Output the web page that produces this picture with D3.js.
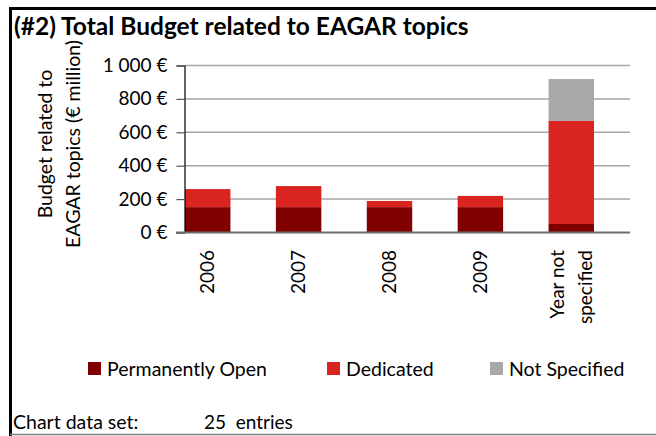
<!DOCTYPE html>
<html>
<head>
<meta charset="utf-8">
<script src="https://cdn.jsdelivr.net/npm/d3@7"></script>
<style>
  html, body { margin: 0; padding: 0; background: #fff; }
  svg { display: block; }
  text { font-family: Lato, "Open Sans", sans-serif; fill: #000; }
</style>
</head>
<body>
<svg id="chart" width="656" height="436"></svg>
<script>
// Budget per year, € million, split by call type
const categories = ["2006", "2007", "2008", "2009", "Year not specified"];
const permanentlyOpen = [152, 152, 152, 152, 51];
const dedicated = [108, 126, 37, 67, 617];
const notSpecified = [0, 0, 0, 0, 251];
const seriesNames = ["Permanently Open", "Dedicated", "Not Specified"];
const seriesColors = ["#800000", "#da2420", "#a8a8ab"];
const yTickValues = [0, 200, 400, 600, 800, 1000];
const yTickLabels = ["0 €", "200 €", "400 €", "600 €", "800 €", "1 000 €"];
const entryCount = 25;

const svg = d3.select("#chart");
svg.append("rect").attr("width", 656).attr("height", 436).attr("fill", "#fff");

// frame
svg.append("line").attr("x1", 9).attr("x2", 656).attr("y1", 8.5).attr("y2", 8.5)
  .attr("stroke", "#000").attr("stroke-width", 3);
svg.append("line").attr("x1", 10.5).attr("x2", 10.5).attr("y1", 7).attr("y2", 436)
  .attr("stroke", "#000").attr("stroke-width", 3);
svg.append("line").attr("x1", 10).attr("x2", 656).attr("y1", 434.5).attr("y2", 434.5)
  .attr("stroke", "#808080").attr("stroke-width", 1.5);

// title
svg.append("text").attr("x", 14).attr("y", 35)
  .attr("font-size", 24.5).attr("font-weight", "bold")
  .text("(#2) Total Budget related to EAGAR topics");

// scales
const x = d3.scaleBand().domain(categories).range([185, 594]).paddingInner(0.5).paddingOuter(0);
const y = d3.scaleLinear().domain([0, 1000]).range([232.5, 65.5]);
const plotLeft = 184.5, plotRight = 630;

// gridlines
svg.append("g").selectAll("line").data(yTickValues.filter(v => v > 0)).join("line")
  .attr("x1", plotLeft).attr("x2", plotRight)
  .attr("y1", d => y(d)).attr("y2", d => y(d))
  .attr("stroke", "#a6a6a6").attr("stroke-width", 1.5);

// stacked bars
const rows = categories.map((c, i) => ({
  category: c,
  "Permanently Open": permanentlyOpen[i],
  "Dedicated": dedicated[i],
  "Not Specified": notSpecified[i]
}));
const stacked = d3.stack().keys(seriesNames)(rows);
svg.append("g").selectAll("g").data(stacked).join("g")
  .attr("fill", (d, i) => seriesColors[i])
  .selectAll("rect").data(d => d).join("rect")
  .attr("x", d => x(d.data.category))
  .attr("width", x.bandwidth())
  .attr("y", d => y(d[1]))
  .attr("height", d => y(d[0]) - y(d[1]));

// y axis
const yAxis = d3.axisLeft(y).tickValues(yTickValues)
  .tickFormat((d, i) => yTickLabels[i]).tickSize(8).tickPadding(9);
const gy = svg.append("g").attr("transform", `translate(${plotLeft},0)`).call(yAxis);
gy.select(".domain").attr("stroke", "#000").attr("stroke-width", 1.2);
gy.selectAll(".tick line").attr("stroke", "#555").attr("stroke-width", 1.2);
gy.selectAll(".tick text").attr("font-family", "Lato, sans-serif").attr("font-size", 19).attr("fill", "#000");

// x baseline
svg.append("line").attr("x1", 176).attr("x2", plotRight)
  .attr("y1", y(0)).attr("y2", y(0))
  .attr("stroke", "#6e6e6e").attr("stroke-width", 2);

// x category labels, rotated
const xl = svg.append("g").selectAll("text").data(categories).join("text")
  .attr("font-size", 19)
  .attr("text-anchor", "end")
  .attr("transform", d => `translate(${x(d) + x.bandwidth() / 2},250) rotate(-90)`);
xl.each(function(d) {
  const words = d === "Year not specified" ? ["Year not", "specified"] : [d];
  const t = d3.select(this);
  const lh = 28;
  words.forEach((w, j) => {
    t.append("tspan").attr("x", 0)
      .attr("y", (j - (words.length - 1) / 2) * lh)
      .attr("dy", "0.35em").text(w);
  });
});

// y axis title
const yt = svg.append("text").attr("font-size", 19.5).attr("text-anchor", "middle")
  .attr("transform", "translate(59,144) rotate(-90)");
["Budget related to", "EAGAR topics (€ million)"].forEach((w, j) => {
  yt.append("tspan").attr("x", 0).attr("y", (j - 0.5) * 28).attr("dy", "0.35em").text(w);
});

// legend
const legendX = [88, 327, 490];
const lg = svg.append("g").selectAll("g").data(seriesNames).join("g")
  .attr("transform", (d, i) => `translate(${legendX[i]},362)`);
lg.append("rect").attr("width", 13).attr("height", 13).attr("fill", (d, i) => seriesColors[i]);
lg.append("text").attr("x", 19).attr("y", 14).attr("font-size", 19.5).text(d => d);

// footer
svg.append("text").attr("x", 13).attr("y", 429).attr("font-size", 19.5).text("Chart data set:");
svg.append("text").attr("x", 204).attr("y", 429).attr("font-size", 19)
  .attr("xml:space", "preserve").style("white-space", "pre").text(entryCount + "  entries");
</script>
</body>
</html>
